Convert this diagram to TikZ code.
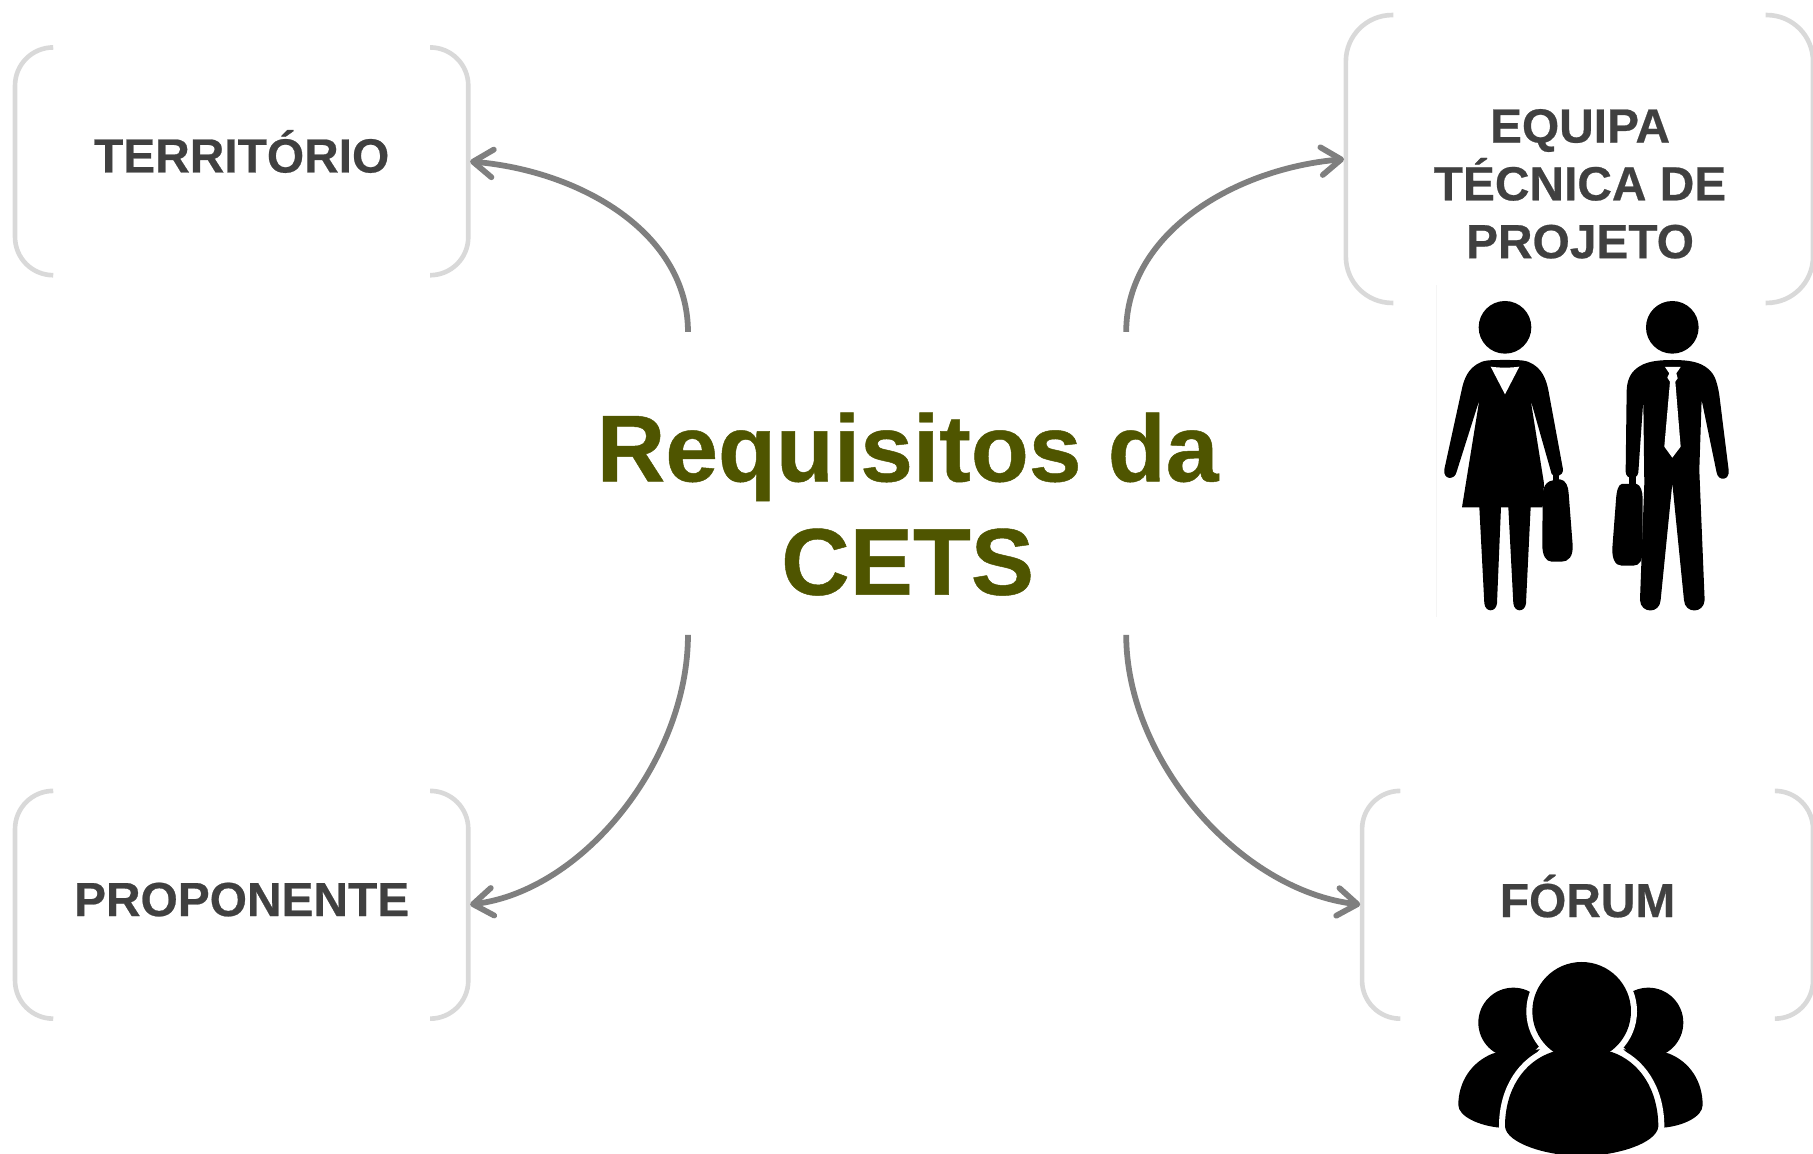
\documentclass[tikz,border=0pt]{standalone}
\usepackage{fontspec}
\setmainfont[BoldFeatures={FakeBold=0.5}]{Liberation Sans}
\usetikzlibrary{arrows.meta}
\definecolor{brk}{HTML}{D9D9D9}
\definecolor{arr}{HTML}{7F7F7F}
\definecolor{lab}{HTML}{404040}
\definecolor{olive}{HTML}{4F5500}
\newcommand{\gbracket}[3]{%
  \draw[brk,line width=2pt,rounded corners=#3]
    ([xshift=#2]#1.north west) -- (#1.north west) -- (#1.south west) -- ([xshift=#2]#1.south west);
  \draw[brk,line width=2pt,rounded corners=#3]
    ([xshift=-#2]#1.north east) -- (#1.north east) -- (#1.south east) -- ([xshift=-#2]#1.south east);
}
\tikzset{
  boxnode/.style={inner sep=0pt,outer sep=0pt},
  boxlabel/.style={font=\fontsize{20.7}{25}\selectfont\bfseries,text=lab,align=center,inner sep=0pt},
  titlelabel/.style={font=\fontsize{41}{49}\selectfont\bfseries,text=olive,align=center,inner sep=0pt},
  link/.style={arr,line width=2.5pt,shorten >=0.8pt,-{Straight Barb[length=8.5pt,width=12pt,line width=2.5pt,round]}},
  iconunit/.style={x=0.14414pt,y=-0.14414pt},
}
\begin{document}
\begin{tikzpicture}[x=0.5pt,y=-0.5pt]
\useasboundingbox (0,0) rectangle (1568,998);
\clip (0,0) rectangle (1568,998);
% boxes
\node[boxnode,minimum width=196pt,minimum height=98.5pt] (terr) at (209,139.5) {};
\node[boxnode,minimum width=196pt,minimum height=98.5pt] (prop) at (209,782.5) {};
\node[boxnode,minimum width=202pt,minimum height=124.5pt] (equi) at (1366,137.5) {};
\node[boxnode,minimum width=195pt,minimum height=98.5pt] (foru) at (1373,782.5) {};
\gbracket{terr}{16pt}{16.5pt}
\gbracket{prop}{16pt}{16.5pt}
\gbracket{equi}{20.5pt}{20pt}
\gbracket{foru}{15.5pt}{16.5pt}
% labels
\node[boxlabel] (terrlab) at (209,131) {TERRITÓRIO};
\node[boxlabel] (proplab) at (209,778) {PROPONENTE};
\node[boxlabel] (equilab) at (1366.5,159) {EQUIPA\\TÉCNICA DE\\PROJETO};
\node[boxlabel] (forulab) at (1373,775) {FÓRUM};
% hub
\node[boxnode,minimum width=189.5pt,minimum height=131pt] (hub) at (784.5,418) {};
\node[titlelabel] (title) at (785,436) {Requisitos da\\CETS};
% connectors
\draw[link] (hub.north west) .. controls +(0,-85) and (503,148) .. (terr.east);
\draw[link] (hub.north east) .. controls +(0,-85) and (1067,146) .. (equi.west);
\draw[link] (hub.south west) .. controls +(0,108) and (505,770) .. (prop.east);
\draw[link] (hub.south east) .. controls +(0,108) and (1072,770) .. (foru.west);
% team icon
\begin{scope}[shift={(1210.8,233.5)},iconunit]
\draw[gray!8,line width=0.4pt] (110,45) -- (110,1040);
% woman
\fill (315,172) circle (79);
\fill (315,270) .. controls (270,270) and (250,270) .. (232,282)
  .. controls (205,298) and (192,325) .. (185,360)
  -- (133,598) .. controls (128,630) and (165,632) .. (170,605)
  -- (238,390) -- (186,712) -- (238,712) -- (253,1000)
  .. controls (256,1028) and (288,1028) .. (291,1000)
  -- (303,712) -- (325,712) -- (340,1000)
  .. controls (343,1028) and (375,1028) .. (378,1000)
  -- (392,712) -- (428,712) -- (432,640) -- (392,390)
  -- (455,612) .. controls (462,625) and (490,620) .. (489,598)
  -- (445,360) .. controls (438,325) and (425,298) .. (398,282)
  .. controls (380,270) and (360,270) .. (315,270) -- cycle;
\fill[white] (272,290) .. controls (300,294) and (330,294) .. (358,290) -- (315,373) -- cycle;
\fill (440,640) .. controls (448,630) and (470,630) .. (480,628)
  .. controls (498,630) and (505,650) .. (506,670)
  -- (518,825) .. controls (520,860) and (505,875) .. (485,875)
  -- (455,875) .. controls (437,875) and (427,855) .. (427,825)
  -- (428,680) .. controls (428,660) and (432,648) .. (440,640) -- cycle;
\fill (458,605) rectangle (478,632);
% man
\fill (817,172) circle (79);
\fill (817,270) .. controls (770,270) and (735,275) .. (710,295)
  .. controls (690,310) and (680,335) .. (680,365)
  -- (677,605) .. controls (678,630) and (710,632) .. (715,608)
  -- (730,390) -- (733,640) -- (720,990)
  .. controls (722,1032) and (780,1032) .. (782,990)
  -- (817,640) -- (852,990)
  .. controls (854,1032) and (912,1032) .. (914,990)
  -- (898,600) -- (905,390) -- (950,608)
  .. controls (955,635) and (990,632) .. (986,600)
  -- (958,375) .. controls (950,325) and (940,310) .. (925,297)
  .. controls (900,275) and (865,270) .. (817,270) -- cycle;
\fill[white] (795,291) -- (842,291) -- (829,310) -- (833,325) -- (826,335)
  -- (842,530) -- (817,563) -- (793,530) -- (810,335) -- (802,323) -- (808,310) -- cycle;
\fill (665,642) -- (710,642) .. controls (722,645) and (728,665) .. (728,685)
  -- (728,840) .. controls (728,870) and (720,887) .. (700,887)
  -- (665,887) .. controls (645,887) and (636,865) .. (637,835)
  -- (648,690) .. controls (650,660) and (655,645) .. (665,642) -- cycle;
\fill (688,615) rectangle (708,645);
\end{scope}
% forum icon
\begin{scope}[shift={(1210.8,804.3)},iconunit]
\fill (340,278) circle (105);
\fill (280,370) .. controls (215,395) and (175,455) .. (175,525)
  .. controls (175,560) and (240,588) .. (300,593) -- (450,593) -- (420,358) -- cycle;
\fill (745,278) circle (105);
\fill (805,370) .. controls (870,395) and (908,455) .. (908,525)
  .. controls (908,560) and (850,588) .. (790,593) -- (640,593) -- (670,358) -- cycle;
\def\bigbody{(457,366) .. controls (370,395) and (315,480) .. (315,590)
  .. controls (320,640) and (440,678) .. (545,678)
  .. controls (650,678) and (770,640) .. (775,590)
  .. controls (775,480) and (720,395) .. (635,366) -- cycle}
\draw[white,line width=5.2pt] (545,244) circle (148);
\draw[white,line width=5.2pt,line join=round] \bigbody;
\fill[white] (420,358) -- (457,366) -- (640,366) -- (670,358) -- (695,385) -- (395,385) -- cycle;
\fill (545,244) circle (148);
\fill \bigbody;
\end{scope}
\end{tikzpicture}
\end{document}
